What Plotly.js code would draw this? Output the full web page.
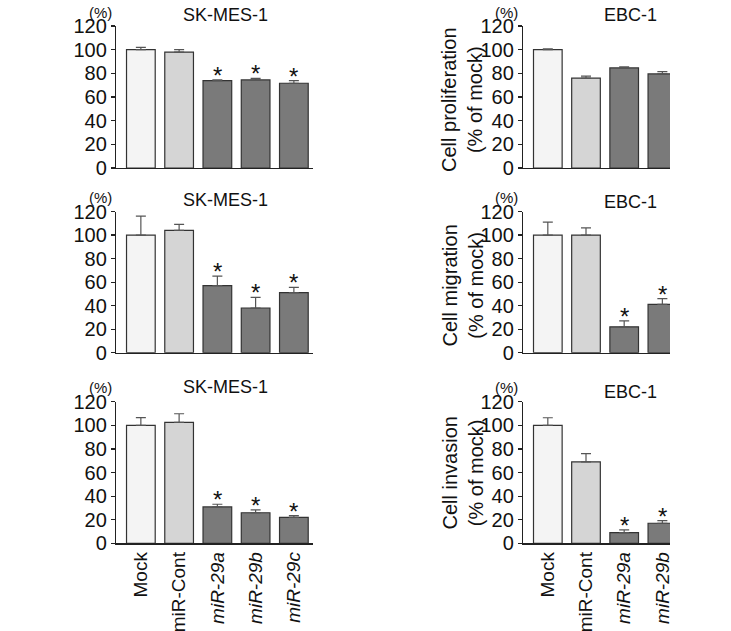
<!DOCTYPE html>
<html>
<head>
<meta charset="utf-8">
<script src="https://cdn.plot.ly/plotly-3.0.1.min.js"></script>
<style>html,body{margin:0;padding:0;background:#fff}#chart{width:731px;height:631px}</style>
</head>
<body>
<div id="chart"></div>
<script>
// ---- data ----
const categoriesSK = ['Mock', 'miR-Cont', 'miR-29a', 'miR-29b', 'miR-29c'];
const categoriesEBC = ['Mock', 'miR-Cont', 'miR-29a', 'miR-29b'];
const tickLabelsSK = ['Mock', 'miR-Cont', '<i>miR-29a</i>', '<i>miR-29b</i>', '<i>miR-29c</i>'];
const tickLabelsEBC = ['Mock', 'miR-Cont', '<i>miR-29a</i>', '<i>miR-29b</i>'];

const prolifSK = [100, 98, 73.8, 74.4, 71.6];
const prolifSKErr = [2, 2, 0.6, 1.4, 2.2];
const prolifSKSig = [0, 0, 1, 1, 1];

const prolifEBC = [100, 75.9, 84.6, 79.5];
const prolifEBCErr = [0.6, 1.7, 0.8, 2];
const prolifEBCSig = [0, 0, 0, 0];

const migSK = [100, 104, 57, 38, 51];
const migSKErr = [16, 5, 8, 9, 4.5];
const migSKSig = [0, 0, 1, 1, 1];

const migEBC = [100, 100, 22, 41];
const migEBCErr = [11, 6, 5, 5];
const migEBCSig = [0, 0, 1, 1];

const invSK = [100, 102.5, 30.8, 25.9, 22];
const invSKErr = [6.5, 7.3, 2.3, 2.5, 1.5];
const invSKSig = [0, 0, 1, 1, 1];

const invEBC = [100, 69, 9, 17];
const invEBCErr = [6.4, 7, 2.3, 2.2];
const invEBCSig = [0, 0, 1, 1];

const titlesLeft = ['SK-MES-1', 'SK-MES-1', 'SK-MES-1'];
const titlesRight = ['EBC-1', 'EBC-1', 'EBC-1'];
const yTitlesRight = ['Cell proliferation<br>(% of mock)', 'Cell migration<br>(% of mock)', 'Cell invasion<br>(% of mock)'];
const unitLabel = '(%)';

// ---- style ----
const FONT = 'Liberation Sans, Arial, sans-serif';
const colorFor = c => c === 'Mock' ? '#f4f4f4' : (c === 'miR-Cont' ? '#d5d5d5' : '#7a7a7a');
const W = 731, H = 631;
const px = v => v / W, py = v => 1 - v / H;

const panels = [
  {cats: categoriesSK, labels: tickLabelsSK, vals: prolifSK, err: prolifSKErr, sig: prolifSKSig, col: 0, row: 0},
  {cats: categoriesEBC, labels: tickLabelsEBC, vals: prolifEBC, err: prolifEBCErr, sig: prolifEBCSig, col: 1, row: 0},
  {cats: categoriesSK, labels: tickLabelsSK, vals: migSK, err: migSKErr, sig: migSKSig, col: 0, row: 1},
  {cats: categoriesEBC, labels: tickLabelsEBC, vals: migEBC, err: migEBCErr, sig: migEBCSig, col: 1, row: 1},
  {cats: categoriesSK, labels: tickLabelsSK, vals: invSK, err: invSKErr, sig: invSKSig, col: 0, row: 2},
  {cats: categoriesEBC, labels: tickLabelsEBC, vals: invEBC, err: invEBCErr, sig: invEBCSig, col: 1, row: 2}
];

// pixel geometry of plot areas
const colX = [[116, 313], [523, 670]];
const colRange = [[-0.65, 4.5], [-0.65, 3.2]];
const rowY = [[26, 168], [211.5, 352.7], [401.7, 543.3]];
const titleY = [[15, 15], [200, 201.7], [387, 391.7]];
const unitY = [[12, 12], [197, 197], [387, 387]];
const titleX = [225, 630];
const unitX = [100, 506];
const yTitleX = 462;
const yTitleY = [100, 285.5, 473.5];

const data = [];
const layout = {
  width: W, height: H,
  margin: {l: 0, r: 0, t: 0, b: 0},
  paper_bgcolor: '#fff', plot_bgcolor: 'rgba(0,0,0,0)',
  showlegend: false,
  bargap: 0.25,
  font: {family: FONT, color: '#111', size: 18},
  annotations: []
};

panels.forEach((p, i) => {
  const n = i + 1;
  const xa = 'x' + (n === 1 ? '' : n), ya = 'y' + (n === 1 ? '' : n);
  data.push({
    type: 'bar', x: p.cats, y: p.vals, xaxis: xa, yaxis: ya,
    marker: {color: p.cats.map(colorFor), line: {color: '#333', width: 1.2}},
    error_y: {type: 'data', symmetric: false, array: p.err, arrayminus: p.err.map(() => 0),
              color: '#555', thickness: 1.2, width: 5},
    hoverinfo: 'none'
  });
  const xk = 'xaxis' + (n === 1 ? '' : n), yk = 'yaxis' + (n === 1 ? '' : n);
  const cx = colX[p.col], ry = rowY[p.row];
  layout[xk] = {
    domain: [px(cx[0]), px(cx[1])], anchor: ya,
    range: colRange[p.col], type: 'category',
    showline: true, linecolor: '#222', linewidth: 1.2,
    ticks: '', showgrid: false, zeroline: false,
    tickvals: p.cats, ticktext: p.labels,
    showticklabels: p.row === 2, tickangle: -90,
    tickfont: {size: 19, family: FONT, color: '#111'}
  };
  layout[yk] = {
    domain: [py(ry[1]), py(ry[0])], anchor: xa,
    range: [0, 120], dtick: 20, tick0: 0,
    showline: true, linecolor: '#222', linewidth: 1.2,
    ticks: 'outside', ticklen: 4, tickwidth: 1.2, tickcolor: '#222',
    showgrid: false, zeroline: false,
    tickfont: {size: 20, family: FONT, color: '#111'}
  };
  // significance marks
  p.sig.forEach((s, k) => {
    if (s) layout.annotations.push({
      xref: xa, yref: ya, x: p.cats[k], y: p.vals[k] + p.err[k],
      text: '*', showarrow: false, yanchor: 'bottom', yshift: -11,
      font: {size: 24, family: FONT, color: '#111'}
    });
  });
  // titles and unit labels
  layout.annotations.push({
    xref: 'paper', yref: 'paper', x: px(titleX[p.col]), y: py(titleY[p.row][p.col]),
    xanchor: 'center', yanchor: 'middle', showarrow: false,
    text: p.col === 0 ? titlesLeft[p.row] : titlesRight[p.row],
    font: {size: 18, family: FONT, color: '#111'}
  });
  layout.annotations.push({
    xref: 'paper', yref: 'paper', x: px(unitX[p.col]), y: py(unitY[p.row][p.col]),
    xanchor: 'center', yanchor: 'middle', showarrow: false,
    text: unitLabel, font: {size: 15, family: FONT, color: '#111'}
  });
  if (p.col === 1) layout.annotations.push({
    xref: 'paper', yref: 'paper', x: px(yTitleX), y: py(yTitleY[p.row]),
    xanchor: 'center', yanchor: 'middle', showarrow: false, textangle: -90,
    text: yTitlesRight[p.row], font: {size: 20, family: FONT, color: '#111'}
  });
});

Plotly.newPlot('chart', data, layout, {staticPlot: true, displayModeBar: false});
</script>
</body>
</html>
